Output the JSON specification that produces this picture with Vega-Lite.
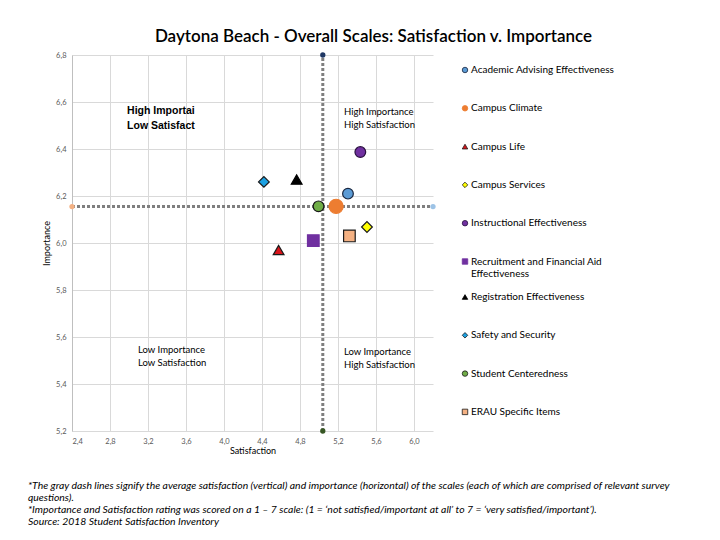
{
  "$schema": "https://vega.github.io/schema/vega-lite/v6.json",
  "width": 361,
  "height": 376,
  "autosize": {"type": "none"},
  "padding": {"left": 72, "top": 55, "right": 287, "bottom": 109},
  "background": "white",
  "title": {
    "text": "Daytona Beach  - Overall Scales: Satisfaction v. Importance",
    "anchor": "middle",
    "frame": "group",
    "dx": 121,
    "offset": -8,
    "baseline": "alphabetic",
    "font": "Lato",
    "fontSize": 17,
    "fontWeight": 600,
    "color": "#000000"
  },
  "config": {
    "view": {"stroke": null},
    "axis": {
      "labelFont": "Lato",
      "labelFontSize": 7.5,
      "labelColor": "#595959",
      "labelOverlap": false,
      "titleFont": "Lato",
      "titleFontSize": 9,
      "titleFontWeight": "normal",
      "titleColor": "#000000",
      "gridColor": "#D9D9D9",
      "gridWidth": 1,
      "ticks": false,
      "domainColor": "#BFBFBF"
    },
    "legend": {
      "title": null,
      "orient": "none",
      "labelFont": "Lato",
      "labelFontSize": 10,
      "labelColor": "#000000",
      "symbolSize": 30,
      "symbolStrokeWidth": 0.8,
      "rowPadding": 28.3,
      "labelOffset": 1,
      "labelLimit": 300
    }
  },
  "datasets": {
    "scales": [
      {"scale": "Academic Advising Effectiveness", "sat": 5.305, "imp": 6.21},
      {"scale": "Campus Climate", "sat": 5.18, "imp": 6.156},
      {"scale": "Campus Life", "sat": 4.575, "imp": 5.97},
      {"scale": "Campus Services", "sat": 5.505, "imp": 6.068},
      {"scale": "Instructional Effectiveness", "sat": 5.435, "imp": 6.387},
      {"scale": "Recruitment and Financial Aid Effectiveness", "sat": 4.94, "imp": 6.01},
      {"scale": "Registration Effectiveness", "sat": 4.765, "imp": 6.27},
      {"scale": "Safety and Security", "sat": 4.42, "imp": 6.26},
      {"scale": "Student Centeredness", "sat": 4.995, "imp": 6.156},
      {"scale": "ERAU Specific Items", "sat": 5.32, "imp": 6.03}
    ]
  },
  "layer": [
    {
      "data": {"values": [{"sat": 2.4, "sat2": 6.2, "imp": 6.155}]},
      "mark": {"type": "rule", "color": "#7F7F7F", "strokeWidth": 3, "strokeDash": [3, 2]},
      "encoding": {
        "x": {"field": "sat", "type": "quantitative", "scale": {"domain": [2.4, 6.2], "nice": false, "zero": false},
          "axis": {"title": "Satisfaction", "values": [2.4, 2.6, 2.8, 3.0, 3.2, 3.4, 3.6, 3.8, 4.0, 4.2, 4.4, 4.6, 4.8, 5.0, 5.2, 5.4, 5.6, 5.8, 6.0, 6.2],
            "labelExpr": "replace(format(datum.value, '.1f'), '.', ',')", "labelPadding": 6, "titlePadding": 2, "domain": false}},
        "x2": {"field": "sat2"},
        "y": {"field": "imp", "type": "quantitative", "scale": {"domain": [5.2, 6.8], "nice": false, "zero": false},
          "axis": {"title": "Importance", "values": [5.2, 5.4, 5.6, 5.8, 6.0, 6.2, 6.4, 6.6, 6.8],
            "labelExpr": "replace(format(datum.value, '.1f'), '.', ',')", "labelPadding": 6, "titlePadding": 4}}
      }
    },
    {
      "data": {"values": [{"sat": 5.04, "imp": 5.2, "imp2": 6.8}]},
      "mark": {"type": "rule", "color": "#7F7F7F", "strokeWidth": 3, "strokeDash": [3, 2]},
      "encoding": {
        "x": {"field": "sat", "type": "quantitative"},
        "y": {"field": "imp", "type": "quantitative"},
        "y2": {"field": "imp2"}
      }
    },
    {
      "data": {"values": [
        {"end": "top", "sat": 5.04, "imp": 6.8},
        {"end": "bottom", "sat": 5.04, "imp": 5.2},
        {"end": "left", "sat": 2.4, "imp": 6.155},
        {"end": "right", "sat": 6.2, "imp": 6.155}
      ]},
      "mark": {"type": "circle", "size": 28, "opacity": 1},
      "encoding": {
        "x": {"field": "sat", "type": "quantitative"},
        "y": {"field": "imp", "type": "quantitative"},
        "color": {
          "condition": [
            {"test": "datum.end == 'top'", "value": "#1F3864"},
            {"test": "datum.end == 'bottom'", "value": "#375623"},
            {"test": "datum.end == 'left'", "value": "#F4B183"}
          ],
          "value": "#9DC3E6"
        }
      }
    },
    {
      "data": {"name": "scales"},
      "transform": [{"filter": {"field": "scale", "oneOf": ["Academic Advising Effectiveness", "Campus Climate", "Campus Life", "Campus Services", "Instructional Effectiveness", "Recruitment and Financial Aid Effectiveness"]}}],
      "mark": {"type": "point", "filled": true, "opacity": 1, "strokeWidth": 1.2},
      "encoding": {
        "x": {"field": "sat", "type": "quantitative"},
        "y": {"field": "imp", "type": "quantitative"},
        "fill": {
          "field": "scale", "type": "nominal",
          "scale": {
            "domain": ["Academic Advising Effectiveness", "Campus Climate", "Campus Life", "Campus Services", "Instructional Effectiveness", "Recruitment and Financial Aid Effectiveness"],
            "range": ["#5B9BD5", "#ED7D31", "#D9151B", "#FFFF00", "#7030A0", "#7030A0"]
          },
          "legend": {
            "legendX": 388,
            "legendY": 10,
            "labelExpr": "datum.label == 'Recruitment and Financial Aid Effectiveness' ? ['Recruitment and Financial Aid', 'Effectiveness'] : datum.label"
          }
        },
        "shape": {
          "field": "scale", "type": "nominal",
          "scale": {
            "domain": ["Academic Advising Effectiveness", "Campus Climate", "Campus Life", "Campus Services", "Instructional Effectiveness", "Recruitment and Financial Aid Effectiveness"],
            "range": ["circle", "circle", "triangle-up", "diamond", "circle", "square"]
          },
          "legend": {
            "legendX": 388,
            "legendY": 10,
            "labelExpr": "datum.label == 'Recruitment and Financial Aid Effectiveness' ? ['Recruitment and Financial Aid', 'Effectiveness'] : datum.label"
          }
        },
        "stroke": {
          "field": "scale", "type": "nominal",
          "scale": {
            "domain": ["Academic Advising Effectiveness", "Campus Climate", "Campus Life", "Campus Services", "Instructional Effectiveness", "Recruitment and Financial Aid Effectiveness"],
            "range": ["#1A2740", "#ED7D31", "#1A1A1A", "#1A1A1A", "#2A1040", "#7030A0"]
          },
          "legend": {
            "legendX": 388,
            "legendY": 10,
            "labelExpr": "datum.label == 'Recruitment and Financial Aid Effectiveness' ? ['Recruitment and Financial Aid', 'Effectiveness'] : datum.label"
          }
        },
        "size": {
          "condition": [
            {"test": "datum.scale == 'Campus Climate'", "value": 200},
            {"test": "datum.scale == 'Recruitment and Financial Aid Effectiveness'", "value": 135}
          ],
          "value": 115
        }
      }
    },
    {
      "data": {"name": "scales"},
      "transform": [{"filter": {"field": "scale", "oneOf": ["Registration Effectiveness", "Safety and Security", "Student Centeredness", "ERAU Specific Items"]}}],
      "mark": {"type": "point", "filled": true, "opacity": 1, "strokeWidth": 1.2},
      "encoding": {
        "x": {"field": "sat", "type": "quantitative"},
        "y": {"field": "imp", "type": "quantitative"},
        "fill": {
          "field": "scale", "type": "nominal",
          "scale": {
            "domain": ["Registration Effectiveness", "Safety and Security", "Student Centeredness", "ERAU Specific Items"],
            "range": ["#000000", "#1CA1E2", "#70AD47", "#F4B183"]
          },
          "legend": {"legendX": 388, "legendY": 237}
        },
        "shape": {
          "field": "scale", "type": "nominal",
          "scale": {
            "domain": ["Registration Effectiveness", "Safety and Security", "Student Centeredness", "ERAU Specific Items"],
            "range": ["triangle-up", "diamond", "circle", "square"]
          },
          "legend": {"legendX": 388, "legendY": 237}
        },
        "stroke": {
          "field": "scale", "type": "nominal",
          "scale": {
            "domain": ["Registration Effectiveness", "Safety and Security", "Student Centeredness", "ERAU Specific Items"],
            "range": ["#000000", "#1A1A1A", "#1A1A1A", "#1A1A1A"]
          },
          "legend": {"legendX": 388, "legendY": 237}
        },
        "size": {
          "condition": [
            {"test": "datum.scale == 'ERAU Specific Items'", "value": 135}
          ],
          "value": 115
        }
      }
    },
    {
      "data": {"values": [
        {"label": "High Importai\nLow Satisfact", "sat": 2.98, "imp": 6.585}
      ]},
      "mark": {"type": "text", "align": "left", "baseline": "top", "lineBreak": "\n", "font": "Liberation Sans", "fontWeight": "bold", "fontSize": 10.5, "lineHeight": 15, "color": "#000000"},
      "encoding": {
        "x": {"field": "sat", "type": "quantitative"},
        "y": {"field": "imp", "type": "quantitative"},
        "text": {"field": "label"}
      }
    },
    {
      "data": {"values": [
        {"label": "High Importance\nHigh Satisfaction", "sat": 5.263, "imp": 6.58},
        {"label": "Low Importance\nLow Satisfaction", "sat": 3.095, "imp": 5.567},
        {"label": "Low Importance\nHigh Satisfaction", "sat": 5.263, "imp": 5.558}
      ]},
      "mark": {"type": "text", "align": "left", "baseline": "top", "lineBreak": "\n", "font": "Lato", "fontSize": 9.5, "lineHeight": 13, "color": "#000000"},
      "encoding": {
        "x": {"field": "sat", "type": "quantitative"},
        "y": {"field": "imp", "type": "quantitative"},
        "text": {"field": "label"}
      }
    },
    {
      "data": {"values": [
        {"note": "*The gray dash lines signify the average satisfaction (vertical) and importance (horizontal) of the scales (each of which are comprised of relevant survey", "sat": 1.937, "imp": 4.966},
        {"note": "questions).", "sat": 1.937, "imp": 4.915},
        {"note": "*Importance and Satisfaction rating was scored on a 1 – 7 scale: (1 = ‘not satisfied/important at all’  to 7 = ‘very satisfied/important’).", "sat": 1.937, "imp": 4.864},
        {"note": "Source: 2018 Student Satisfaction Inventory", "sat": 1.937, "imp": 4.811}
      ]},
      "mark": {"type": "text", "align": "left", "baseline": "middle", "font": "Lato", "fontStyle": "italic", "fontSize": 10.4, "color": "#000000"},
      "encoding": {
        "x": {"field": "sat", "type": "quantitative"},
        "y": {"field": "imp", "type": "quantitative"},
        "text": {"field": "note"}
      }
    }
  ],
  "resolve": {"scale": {"fill": "independent", "shape": "independent", "stroke": "independent"}}
}
